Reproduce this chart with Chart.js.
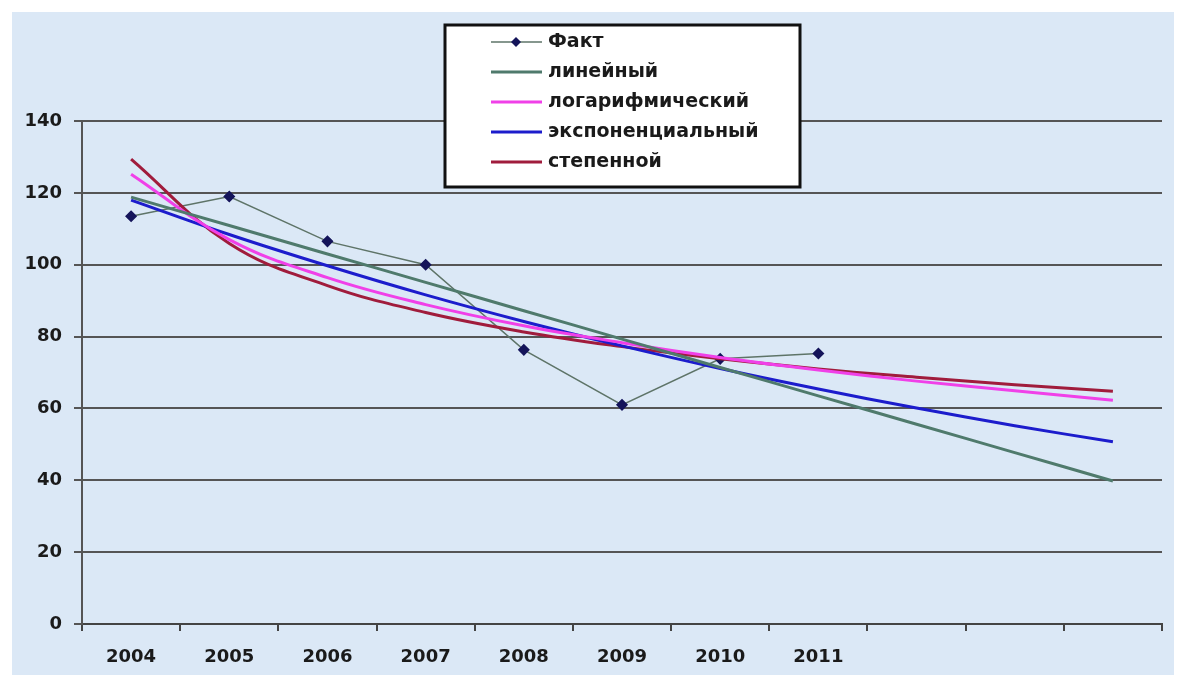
<!DOCTYPE html>
<html>
<head>
<meta charset="utf-8">
<script src="https://cdn.jsdelivr.net/npm/chart.js@4.4.0/dist/chart.umd.min.js"></script>
<style>
  html, body { margin: 0; padding: 0; background: #fff; }
  #wrap { width: 1182px; height: 679px; position: relative; }
</style>
</head>
<body>
<div id="wrap"><canvas id="c" width="1182" height="679"></canvas></div>
<script>
// years on the axis; the last three only carry the trend lines
const years = ['2004', '2005', '2006', '2007', '2008', '2009', '2010', '2011', '', '', ''];

const fact = [113.5, 119, 106.5, 100, 76.3, 61, 73.8, 75.3, null, null, null];

// trend lines
const linear = [118.8, 110.9, 103, 95.1, 87.2, 79.3, 71.4, 63.5, 55.6, 47.7, 39.8];
const logarithmic = [125.2, 107, 96.4, 88.9, 83, 78.3, 74.2, 70.7, 67.6, 64.9, 62.3];
const exponential = [118, 108.4, 99.7, 91.6, 84.2, 77.4, 71.1, 65.4, 60.1, 55.2, 50.7];
const power = [129.4, 105.9, 94.2, 86.7, 81.3, 77.2, 73.8, 71, 68.7, 66.6, 64.8];

const yTicks = [0, 20, 40, 60, 80, 100, 120, 140];

const FONT = '"DejaVu Sans", Arial, sans-serif';

// pale blue backdrop with a thin white margin
const backdrop = {
  id: 'backdrop',
  beforeDraw(chart) {
    const ctx = chart.ctx;
    ctx.save();
    ctx.fillStyle = '#fff';
    ctx.fillRect(0, 0, chart.width, chart.height);
    ctx.fillStyle = '#dbe8f6';
    ctx.fillRect(12, 12, chart.width - 20, chart.height - 16);
    ctx.restore();
  }
};

// boxed legend in the top middle, like the original
const boxLegend = {
  id: 'boxLegend',
  afterDraw(chart) {
    const ctx = chart.ctx;
    const x = 445, y = 25, w = 355, h = 162;
    ctx.save();
    ctx.fillStyle = '#fff';
    ctx.fillRect(x, y, w, h);
    ctx.lineWidth = 3;
    ctx.strokeStyle = '#111';
    ctx.strokeRect(x, y, w, h);
    ctx.font = 'bold 19px ' + FONT;
    ctx.textBaseline = 'middle';
    chart.data.datasets.forEach((ds, i) => {
      const ry = 42 + i * 30;
      ctx.strokeStyle = ds.borderColor;
      ctx.lineWidth = ds.borderWidth;
      ctx.beginPath();
      ctx.moveTo(491, ry);
      ctx.lineTo(542, ry);
      ctx.stroke();
      if (ds.pointRadius > 0) {
        ctx.fillStyle = ds.pointBackgroundColor;
        ctx.beginPath();
        ctx.moveTo(516, ry - 5);
        ctx.lineTo(521, ry);
        ctx.lineTo(516, ry + 5);
        ctx.lineTo(511, ry);
        ctx.closePath();
        ctx.fill();
      }
      ctx.fillStyle = '#1a1a1a';
      ctx.fillText(ds.label, 548, ry);
    });
    ctx.restore();
  }
};

const trend = (label, data, color) => ({
  label, data,
  borderColor: color,
  backgroundColor: color,
  borderWidth: 3,
  pointRadius: 0,
  tension: 0.4,
  order: 0
});

new Chart(document.getElementById('c'), {
  type: 'line',
  data: {
    labels: years,
    datasets: [
      {
        label: 'Факт',
        data: fact,
        borderColor: '#5e7468',
        backgroundColor: '#14145a',
        borderWidth: 1.5,
        pointStyle: 'rectRot',
        pointRadius: 5,
        pointBackgroundColor: '#14145a',
        pointBorderColor: '#14145a',
        tension: 0,
        order: 1
      },
      trend('линейный', linear, '#4f7a6c'),
      trend('логарифмический', logarithmic, '#f040e8'),
      trend('экспоненциальный', exponential, '#1c1ccc'),
      trend('степенной', power, '#a01c3c')
    ]
  },
  options: {
    responsive: false,
    animation: false,
    layout: { padding: { left: 0, right: 20, top: 121, bottom: 0 } },
    plugins: { legend: { display: false }, tooltip: { enabled: false } },
    scales: {
      x: {
        offset: true,
        grid: { offset: true, drawOnChartArea: false, color: '#444', lineWidth: 2, tickLength: 7 },
        border: { color: '#444', width: 2 },
        ticks: {
          color: '#1a1a1a', font: { family: FONT, size: 18, weight: 'bold' },
          padding: 16, maxRotation: 0, autoSkip: false
        },
        afterFit: (s) => { s.height = 55; }
      },
      y: {
        min: 0, max: 140,
        afterBuildTicks: (s) => { s.ticks = yTicks.map(v => ({ value: v })); },
        grid: { color: '#555', lineWidth: 2, tickLength: 8 },
        border: { color: '#555', width: 2 },
        ticks: {
          color: '#1a1a1a', font: { family: FONT, size: 18, weight: 'bold' },
          padding: 12
        },
        afterFit: (s) => { s.width = 82; }
      }
    }
  },
  plugins: [backdrop, boxLegend]
});
</script>
</body>
</html>
